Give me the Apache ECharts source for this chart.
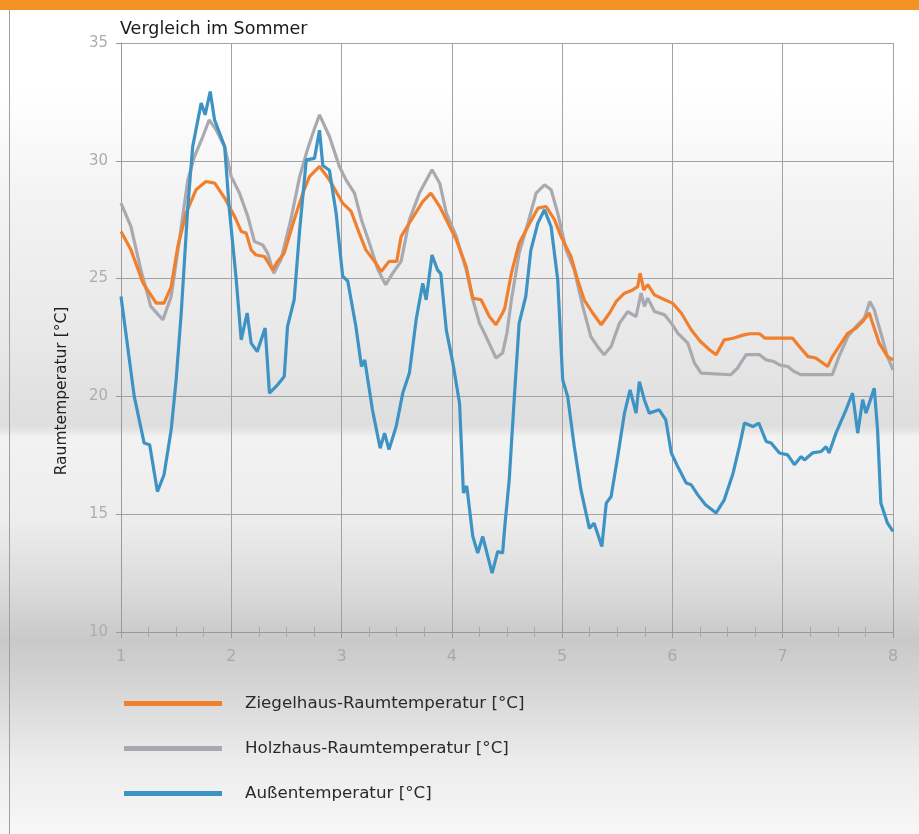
<!DOCTYPE html>
<html>
<head>
<meta charset="utf-8">
<script src="https://cdn.jsdelivr.net/npm/echarts@6/dist/echarts.min.js"></script>
<style>
html,body{margin:0;padding:0;background:#fff;}
#wrap{position:relative;width:919px;height:834px;overflow:hidden;
 background:linear-gradient(to bottom,#F39325 0px,#F39325 10px,#ffffff 10px,#ffffff 90px,#f3f3f3 200px,#e9e9e9 330px,#dedede 425px,#e6e6e6 431px,#f2f2f2 437px,#ededed 520px,#dadada 590px,#c9c9c9 640px,#d6d6d6 690px,#ececec 760px,#f7f7f7 834px);}
#border{position:absolute;left:9px;top:10px;width:1px;height:824px;background:#a0a0a0;}
#chart{position:absolute;left:0;top:0;width:919px;height:834px;}
</style>
</head>
<body>
<div id="wrap"><div id="border"></div><div id="chart"></div></div>
<script>
var seriesNames = ['Ziegelhaus-Raumtemperatur [°C]', 'Holzhaus-Raumtemperatur [°C]', 'Außentemperatur [°C]'];
var yTicks = [10, 15, 20, 25, 30, 35];
var xTicks = [1, 2, 3, 4, 5, 6, 7, 8];

var ziegelData = [[1.0,27.0],[1.09,26.22],[1.2,24.81],[1.24,24.52],[1.32,23.96],[1.39,23.96],[1.455,24.66],[1.515,26.36],[1.59,27.78],[1.68,28.77],[1.77,29.12],[1.85,29.05],[1.94,28.42],[2.03,27.64],[2.09,27.0],[2.135,26.93],[2.18,26.22],[2.225,26.0],[2.3,25.94],[2.376,25.37],[2.42,25.73],[2.48,26.08],[2.57,27.5],[2.66,28.77],[2.709,29.33],[2.8,29.76],[2.89,29.19],[3.01,28.2],[3.087,27.85],[3.16,26.93],[3.22,26.22],[3.31,25.66],[3.36,25.3],[3.43,25.73],[3.5,25.73],[3.54,26.79],[3.615,27.36],[3.736,28.27],[3.81,28.63],[3.89,28.06],[3.95,27.5],[4.04,26.65],[4.13,25.51],[4.19,24.17],[4.265,24.1],[4.34,23.39],[4.4,23.04],[4.46,23.54],[4.48,23.75],[4.54,25.23],[4.61,26.5],[4.69,27.21],[4.78,27.99],[4.855,28.06],[4.93,27.5],[4.99,26.79],[5.08,25.94],[5.14,24.95],[5.2,24.1],[5.277,23.54],[5.354,23.04],[5.43,23.54],[5.49,24.03],[5.565,24.38],[5.64,24.52],[5.685,24.66],[5.707,25.23],[5.74,24.52],[5.776,24.74],[5.837,24.31],[5.93,24.1],[6.0,23.96],[6.08,23.54],[6.17,22.83],[6.25,22.35],[6.336,21.98],[6.396,21.77],[6.47,22.4],[6.55,22.47],[6.64,22.6],[6.7,22.66],[6.79,22.66],[6.84,22.47],[6.94,22.47],[7.09,22.47],[7.15,22.12],[7.23,21.69],[7.3,21.63],[7.407,21.27],[7.45,21.69],[7.53,22.26],[7.59,22.68],[7.665,22.9],[7.725,23.18],[7.785,23.54],[7.815,23.1],[7.875,22.26],[7.95,21.69],[8.0,21.55]];

var holzData = [[1.0,28.2],[1.09,27.21],[1.18,25.37],[1.27,23.82],[1.38,23.25],[1.455,24.24],[1.53,26.65],[1.606,29.19],[1.666,30.18],[1.742,31.03],[1.8,31.74],[1.863,31.31],[1.94,30.6],[2.0,29.33],[2.074,28.63],[2.15,27.64],[2.21,26.57],[2.285,26.43],[2.33,26.08],[2.385,25.23],[2.45,25.8],[2.54,27.5],[2.62,29.33],[2.69,30.47],[2.75,31.31],[2.8,31.95],[2.89,31.03],[2.98,29.76],[3.04,29.19],[3.117,28.63],[3.18,27.5],[3.253,26.5],[3.33,25.37],[3.4,24.74],[3.464,25.23],[3.54,25.73],[3.615,27.5],[3.706,28.63],[3.82,29.62],[3.89,29.05],[3.95,27.78],[4.04,26.79],[4.13,25.37],[4.19,24.1],[4.25,23.11],[4.31,22.54],[4.4,21.63],[4.46,21.84],[4.5,22.7],[4.54,24.1],[4.61,26.08],[4.69,27.36],[4.764,28.63],[4.84,28.98],[4.9,28.77],[4.96,27.78],[5.036,26.22],[5.11,25.37],[5.187,23.82],[5.26,22.54],[5.32,22.12],[5.38,21.77],[5.444,22.12],[5.52,23.11],[5.595,23.6],[5.67,23.39],[5.716,24.38],[5.746,23.82],[5.776,24.17],[5.837,23.6],[5.93,23.46],[5.99,23.11],[6.05,22.68],[6.14,22.26],[6.2,21.41],[6.26,20.99],[6.53,20.92],[6.59,21.2],[6.668,21.77],[6.79,21.77],[6.85,21.55],[6.92,21.48],[6.97,21.34],[7.045,21.27],[7.106,21.05],[7.167,20.92],[7.45,20.92],[7.51,21.69],[7.59,22.54],[7.665,22.97],[7.74,23.32],[7.79,24.03],[7.83,23.68],[7.89,22.68],[7.95,21.69],[8.0,21.13]];

var aussenData = [[1.0,24.24],[1.12,20.0],[1.21,18.02],[1.26,17.95],[1.33,15.96],[1.39,16.67],[1.455,18.58],[1.5,20.7],[1.546,23.54],[1.606,28.06],[1.65,30.6],[1.727,32.45],[1.763,31.95],[1.809,32.94],[1.848,31.74],[1.94,30.6],[1.98,28.06],[2.045,24.95],[2.09,22.4],[2.144,23.54],[2.18,22.26],[2.235,21.9],[2.307,22.9],[2.346,20.14],[2.42,20.49],[2.48,20.84],[2.51,22.97],[2.57,24.1],[2.62,27.07],[2.68,30.04],[2.754,30.1],[2.8,31.3],[2.83,29.8],[2.89,29.6],[2.95,27.8],[3.01,25.1],[3.056,24.9],[3.13,22.97],[3.18,21.27],[3.21,21.55],[3.28,19.43],[3.35,17.8],[3.39,18.44],[3.43,17.74],[3.495,18.72],[3.555,20.14],[3.615,20.99],[3.676,23.25],[3.736,24.8],[3.767,24.1],[3.82,26.0],[3.87,25.37],[3.9,25.2],[3.95,22.8],[4.01,21.4],[4.07,19.7],[4.105,15.9],[4.135,16.2],[4.19,14.05],[4.235,13.35],[4.28,14.05],[4.365,12.5],[4.416,13.42],[4.46,13.35],[4.48,14.48],[4.52,16.46],[4.567,20.0],[4.61,23.1],[4.67,24.24],[4.716,26.2],[4.78,27.36],[4.84,27.92],[4.9,27.2],[4.96,24.95],[5.005,20.7],[5.05,20.0],[5.11,17.87],[5.17,16.04],[5.247,14.4],[5.29,14.62],[5.36,13.63],[5.4,15.47],[5.444,15.75],[5.504,17.45],[5.565,19.29],[5.616,20.28],[5.67,19.29],[5.7,20.63],[5.745,19.86],[5.79,19.29],[5.88,19.43],[5.94,19.0],[5.99,17.6],[6.05,17.0],[6.125,16.32],[6.17,16.25],[6.23,15.82],[6.3,15.4],[6.396,15.05],[6.47,15.61],[6.55,16.74],[6.607,17.87],[6.653,18.87],[6.73,18.72],[6.783,18.87],[6.85,18.09],[6.895,18.02],[6.97,17.6],[7.045,17.52],[7.106,17.1],[7.167,17.45],[7.197,17.3],[7.27,17.6],[7.348,17.66],[7.393,17.87],[7.42,17.6],[7.483,18.44],[7.574,19.43],[7.633,20.14],[7.68,18.44],[7.725,19.86],[7.755,19.29],[7.83,20.35],[7.86,18.58],[7.89,15.47],[7.95,14.62],[8.0,14.27]];

var colors = ['#F07F2E', '#A9A9B0', '#3C93C4'];
var FONT = '"DejaVu Sans", "Liberation Sans", Arial, sans-serif';

var chart = echarts.init(document.getElementById('chart'), null, {renderer: 'canvas'});
var axisGray = '#9a9a9a';
var option = {
  backgroundColor: 'transparent',
  animation: false,
  title: {
    text: 'Vergleich im Sommer', left: 115, top: 15,
    textStyle: {fontFamily: FONT, fontSize: 17.5, fontWeight: 'normal', color: '#1a1a1a'}
  },
  grid: {left: 121, right: 26, top: 43, bottom: 202, containLabel: false},
  legend: {
    orient: 'vertical', left: 119, top: 690, itemWidth: 98, itemHeight: 5, itemGap: 28,
    icon: 'rect',
    data: seriesNames,
    textStyle: {fontFamily: FONT, fontSize: 16.7, color: '#2a2a2a', padding: [0, 0, 0, 18]}
  },
  graphic: [{
    type: 'text', x: 62, y: 391, rotation: Math.PI / 2,
    style: {text: 'Raumtemperatur [°C]', fontFamily: FONT, fontSize: 15.5, fill: '#222', align: 'center', verticalAlign: 'middle'}
  }],
  xAxis: [{
    type: 'value', min: xTicks[0], max: xTicks[xTicks.length - 1], interval: 1,
    axisLine: {show: true, lineStyle: {color: axisGray, width: 1}},
    axisTick: {show: true, length: 6, lineStyle: {color: axisGray}},
    minorTick: {show: true, splitNumber: 4, length: 5, lineStyle: {color: '#a8a8a8'}},
    axisLabel: {margin: 17, fontFamily: FONT, fontSize: 16, color: '#a9a9a9'},
    splitLine: {show: true, lineStyle: {color: '#a2a2a2', width: 1}}
  }, {
    type: 'value', min: xTicks[0], max: xTicks[xTicks.length - 1], interval: 1, position: 'bottom',
    axisLine: {show: false},
    axisTick: {show: true, inside: true, length: 6, lineStyle: {color: axisGray}},
    minorTick: {show: true, splitNumber: 4, length: 5, lineStyle: {color: '#a8a8a8'}},
    axisLabel: {show: false}, splitLine: {show: false}
  }],
  yAxis: {
    type: 'value', min: yTicks[0], max: yTicks[yTicks.length - 1], interval: 5,
    axisLine: {show: true, lineStyle: {color: axisGray, width: 1}},
    axisTick: {show: true, length: 5, lineStyle: {color: axisGray}},
    axisLabel: {margin: 13, fontFamily: FONT, fontSize: 15, color: '#adadad'},
    splitLine: {show: true, lineStyle: {color: '#a2a2a2', width: 1}}
  },
  series: [
    {name: seriesNames[0], type: 'line', data: ziegelData, symbol: 'none', z: 4,
     lineStyle: {color: colors[0], width: 3.2}, itemStyle: {color: colors[0]}},
    {name: seriesNames[1], type: 'line', data: holzData, symbol: 'none', z: 3,
     lineStyle: {color: colors[1], width: 3.2}, itemStyle: {color: colors[1]}},
    {name: seriesNames[2], type: 'line', data: aussenData, symbol: 'none', z: 5,
     lineStyle: {color: colors[2], width: 3.2}, itemStyle: {color: colors[2]}}
  ]
};
chart.setOption(option);
</script>
</body>
</html>
